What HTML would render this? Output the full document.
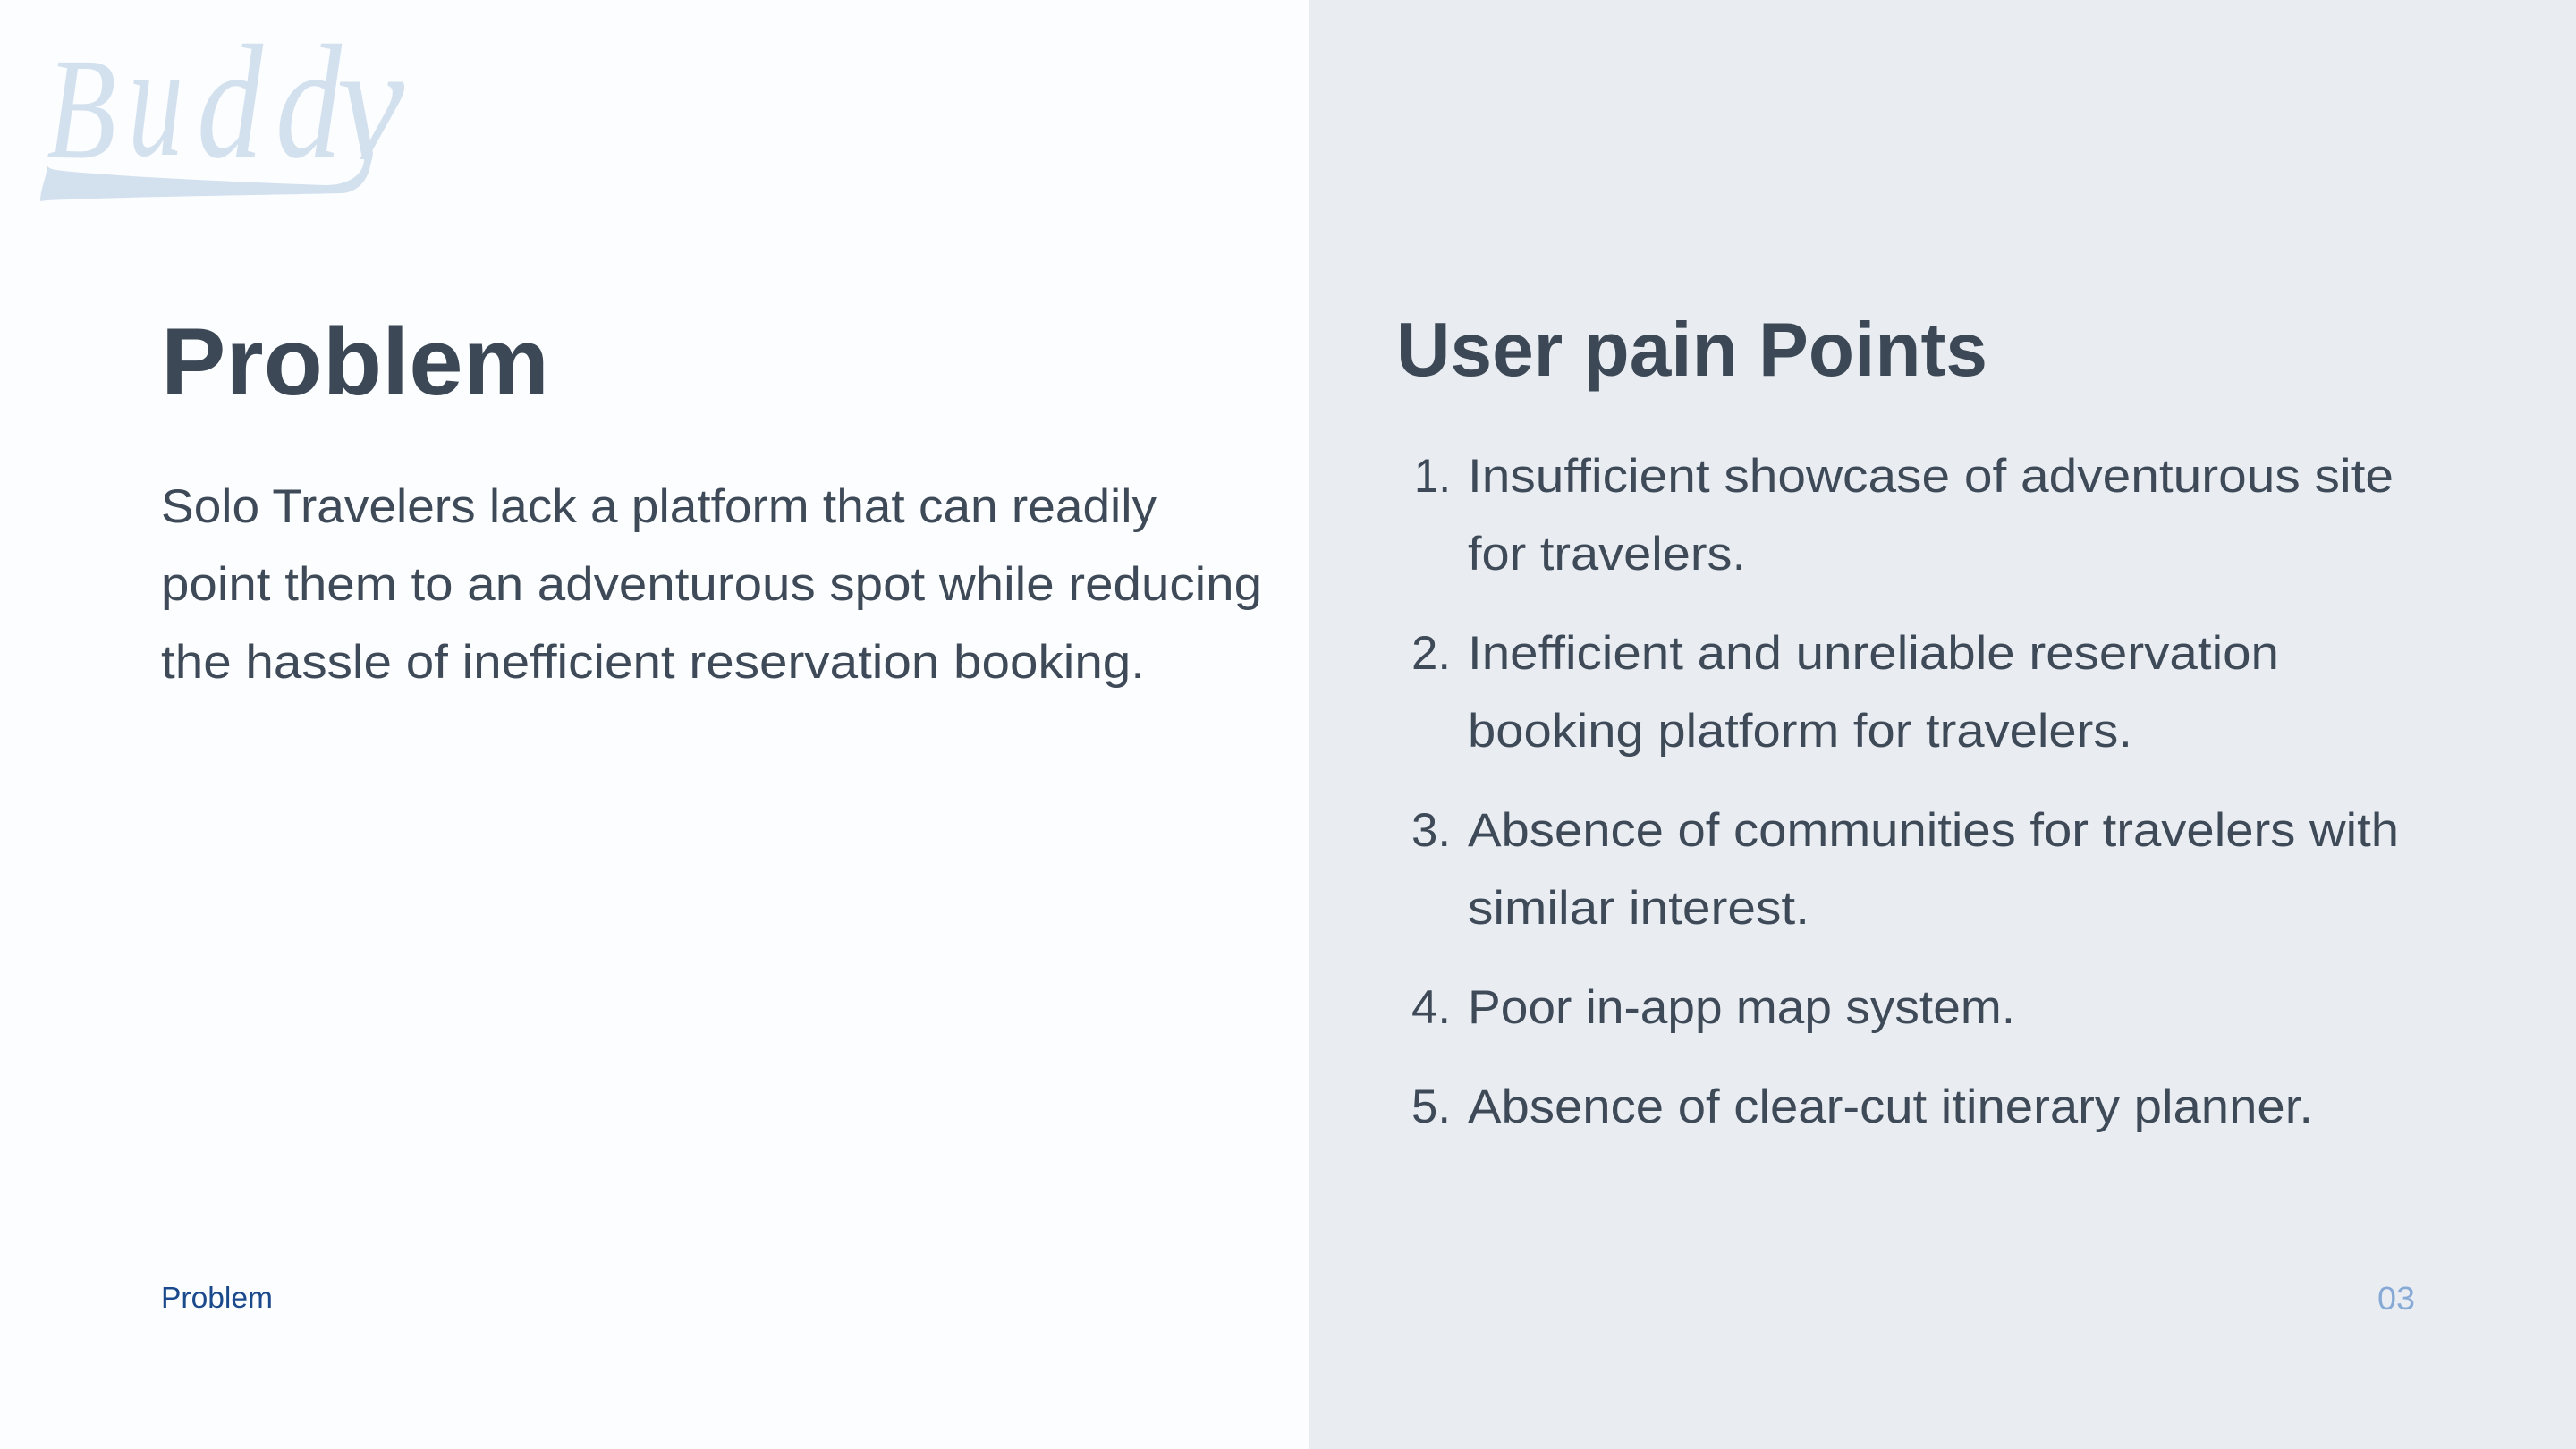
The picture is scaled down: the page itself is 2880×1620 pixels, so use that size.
<!DOCTYPE html>
<html lang="en"><head><meta charset="utf-8"><title>Problem</title>
<style>
html,body{margin:0;padding:0;background:#FBFDFF}
svg{display:block}
text{font-family:"Liberation Sans",sans-serif;fill:#3F4A58;font-size:53px}
.h{font-weight:700;fill:#3C4855}
.l{font-family:"Liberation Serif",serif;font-style:italic;fill:#D3E0EE;font-size:182px}
</style></head><body>
<svg width="2880" height="1620" viewBox="0 0 2880 1620" xmlns="http://www.w3.org/2000/svg">
<defs><clipPath id="c"><rect x="380" y="60" width="90" height="118"/></clipPath></defs>
<rect width="2880" height="1620" fill="#FBFDFF"/>
<rect x="1464" width="1416" height="1620" fill="#E9EDF2"/>

<text class="l" x="52" y="176" style="font-size:162px" textLength="78" lengthAdjust="spacingAndGlyphs">B</text>
<text class="l" x="143" y="173" textLength="62" lengthAdjust="spacingAndGlyphs">u</text>
<text class="l" x="220" y="175" textLength="74" lengthAdjust="spacingAndGlyphs">d</text>
<text class="l" x="308" y="175" textLength="74" lengthAdjust="spacingAndGlyphs">d</text>
<text class="l" clip-path="url(#c)" x="376" y="175" textLength="76" lengthAdjust="spacingAndGlyphs">y</text>
<path fill="#D3E0EE" d="M53 185C54 189 60 190 80 192C160 199 280 204 365 207C388 207 407 196 407 178C407 168 403 162 402 152L414 165C420 170 415 178 413 190C408 205 398 215 382 216C300 218 140 220 52 224L45 225C45 212 52 198 53 185Z"/>

<text class="h" x="180" y="441" style="font-size:107px" textLength="434" lengthAdjust="spacingAndGlyphs">Problem</text>
<text x="180" y="584" textLength="1113" lengthAdjust="spacingAndGlyphs">Solo Travelers lack a platform that can readily</text>
<text x="180" y="671" textLength="1231" lengthAdjust="spacingAndGlyphs">point them to an adventurous spot while reducing</text>
<text x="180" y="758" textLength="1100" lengthAdjust="spacingAndGlyphs">the hassle of inefficient reservation booking.</text>

<text class="h" x="1561" y="420" style="font-size:85px" textLength="661" lengthAdjust="spacingAndGlyphs">User pain Points</text>

<text x="1581" y="550" textLength="41" lengthAdjust="spacingAndGlyphs">1.</text>
<text x="1641" y="550" textLength="1035" lengthAdjust="spacingAndGlyphs">Insufficient showcase of adventurous site</text>
<text x="1641" y="637" textLength="311" lengthAdjust="spacingAndGlyphs">for travelers.</text>
<text x="1578" y="748" textLength="44" lengthAdjust="spacingAndGlyphs">2.</text>
<text x="1641" y="748" textLength="907" lengthAdjust="spacingAndGlyphs">Inefficient and unreliable reservation</text>
<text x="1641" y="835" textLength="743" lengthAdjust="spacingAndGlyphs">booking platform for travelers.</text>
<text x="1578" y="946" textLength="44" lengthAdjust="spacingAndGlyphs">3.</text>
<text x="1641" y="946" textLength="1041" lengthAdjust="spacingAndGlyphs">Absence of communities for travelers with</text>
<text x="1641" y="1033" textLength="382" lengthAdjust="spacingAndGlyphs">similar interest.</text>
<text x="1578" y="1144" textLength="44" lengthAdjust="spacingAndGlyphs">4.</text>
<text x="1641" y="1144" textLength="612" lengthAdjust="spacingAndGlyphs">Poor in-app map system.</text>
<text x="1578" y="1255" textLength="44" lengthAdjust="spacingAndGlyphs">5.</text>
<text x="1641" y="1255" textLength="945" lengthAdjust="spacingAndGlyphs">Absence of clear-cut itinerary planner.</text>

<text x="180" y="1462" style="font-size:33px;fill:#1B4A8C" textLength="125" lengthAdjust="spacingAndGlyphs">Problem</text>
<text x="2658" y="1464" style="font-size:36px;fill:#86A9D6" textLength="42" lengthAdjust="spacingAndGlyphs">03</text>
</svg>
</body></html>
